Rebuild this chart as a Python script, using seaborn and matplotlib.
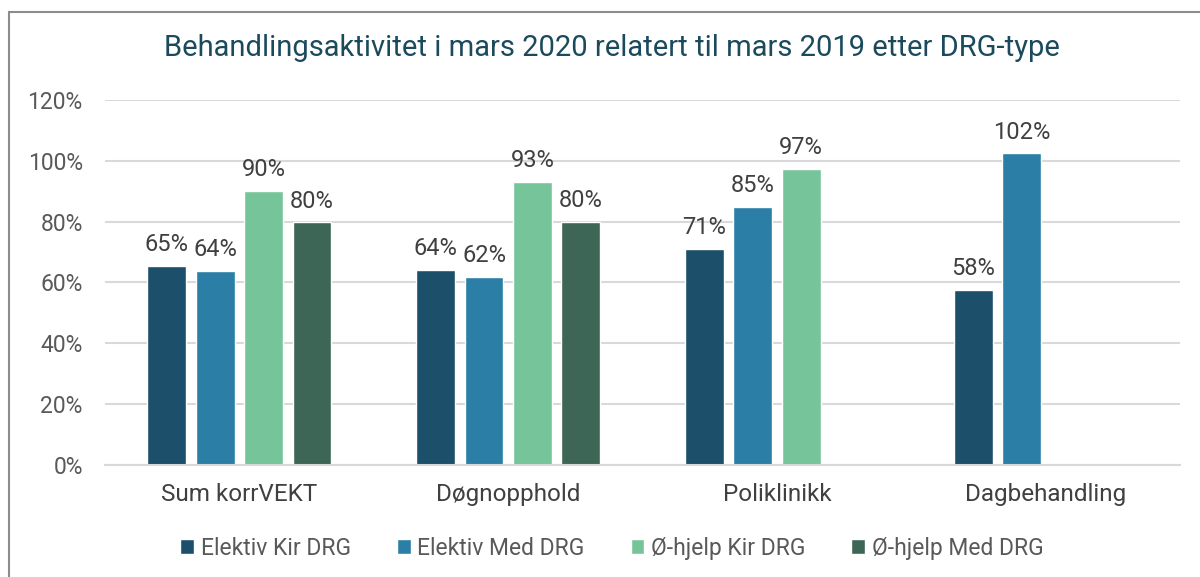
import pandas as pd
import matplotlib.pyplot as plt
import seaborn as sns
from matplotlib.patches import Rectangle

kategorier = ['Sum korrVEKT', 'Døgnopphold', 'Poliklinikk', 'Dagbehandling']
serier = ['Elektiv Kir DRG', 'Elektiv Med DRG', 'Ø-hjelp Kir DRG', 'Ø-hjelp Med DRG']
elektiv_kir = [65.4, 64.1, 71.0, 57.6]
elektiv_med = [63.8, 61.8, 84.8, 102.4]
ohjelp_kir = [90.2, 93.0, 97.3, None]
ohjelp_med = [79.7, 79.9, None, None]
farger = ['#1b4f6a', '#2b7fa7', '#76c59a', '#3d6657']

rader = []
for s, verdier in zip(serier, [elektiv_kir, elektiv_med, ohjelp_kir, ohjelp_med]):
    for k, v in zip(kategorier, verdier):
        if v is not None:
            rader.append({'Kategori': k, 'Serie': s, 'Verdi': v})
data = pd.DataFrame(rader)

sns.set_style('white')
plt.rcParams['font.family'] = ['Roboto', 'DejaVu Sans']

fig = plt.figure(figsize=(12, 5.77), dpi=100)
ax = fig.add_axes([0.0875, 0.194, 0.896, 0.633])

g = sns.barplot(data=data, x='Kategori', y='Verdi', hue='Serie', order=kategorier,
                hue_order=serier, palette=farger, width=0.72, gap=0.2,
                saturation=1, ax=ax, legend=True)

for c in ax.containers:
    ax.bar_label(c, fmt='%.0f%%', padding=7, fontsize=17, color='#404040')

ax.set_ylim(0, 120)
ax.set_xlim(-0.5, 3.5)
ax.set_yticks(range(0, 121, 20))
ax.set_yticklabels([f'{t}%' for t in range(0, 121, 20)])
ax.yaxis.grid(True, color='#d9d9d9', linewidth=1.5)
ax.set_axisbelow(True)
for side in ['top', 'right', 'left']:
    ax.spines[side].set_visible(False)
ax.spines['bottom'].set_color('#d9d9d9')
ax.spines['bottom'].set_linewidth(1.5)
ax.tick_params(axis='y', labelsize=16.5, labelcolor='#595959', length=0, pad=16)
ax.tick_params(axis='x', labelsize=17.5, labelcolor='#404040', length=0, pad=13)
ax.set_xlabel('')
ax.set_ylabel('')

fig.text(0.51, 0.916, 'Behandlingsaktivitet i mars 2020 relatert til mars 2019 etter DRG-type',
         ha='center', va='center', fontsize=21, color='#1a4a5c')

ax.legend(loc='center', bbox_to_anchor=(0.51, 0.05), bbox_transform=fig.transFigure,
          ncol=4, frameon=False, fontsize=16.5, labelcolor='#595959',
          handlelength=0.6, handleheight=0.6, handletextpad=0.3, columnspacing=2.0)

fig.patches.append(Rectangle((9 / 1200, -0.1), 1.2, 1 - 12 / 577 + 0.1,
                             transform=fig.transFigure, fill=False,
                             edgecolor='#8c8c8c', linewidth=1.5))

fig.savefig('out.png', dpi=100)
